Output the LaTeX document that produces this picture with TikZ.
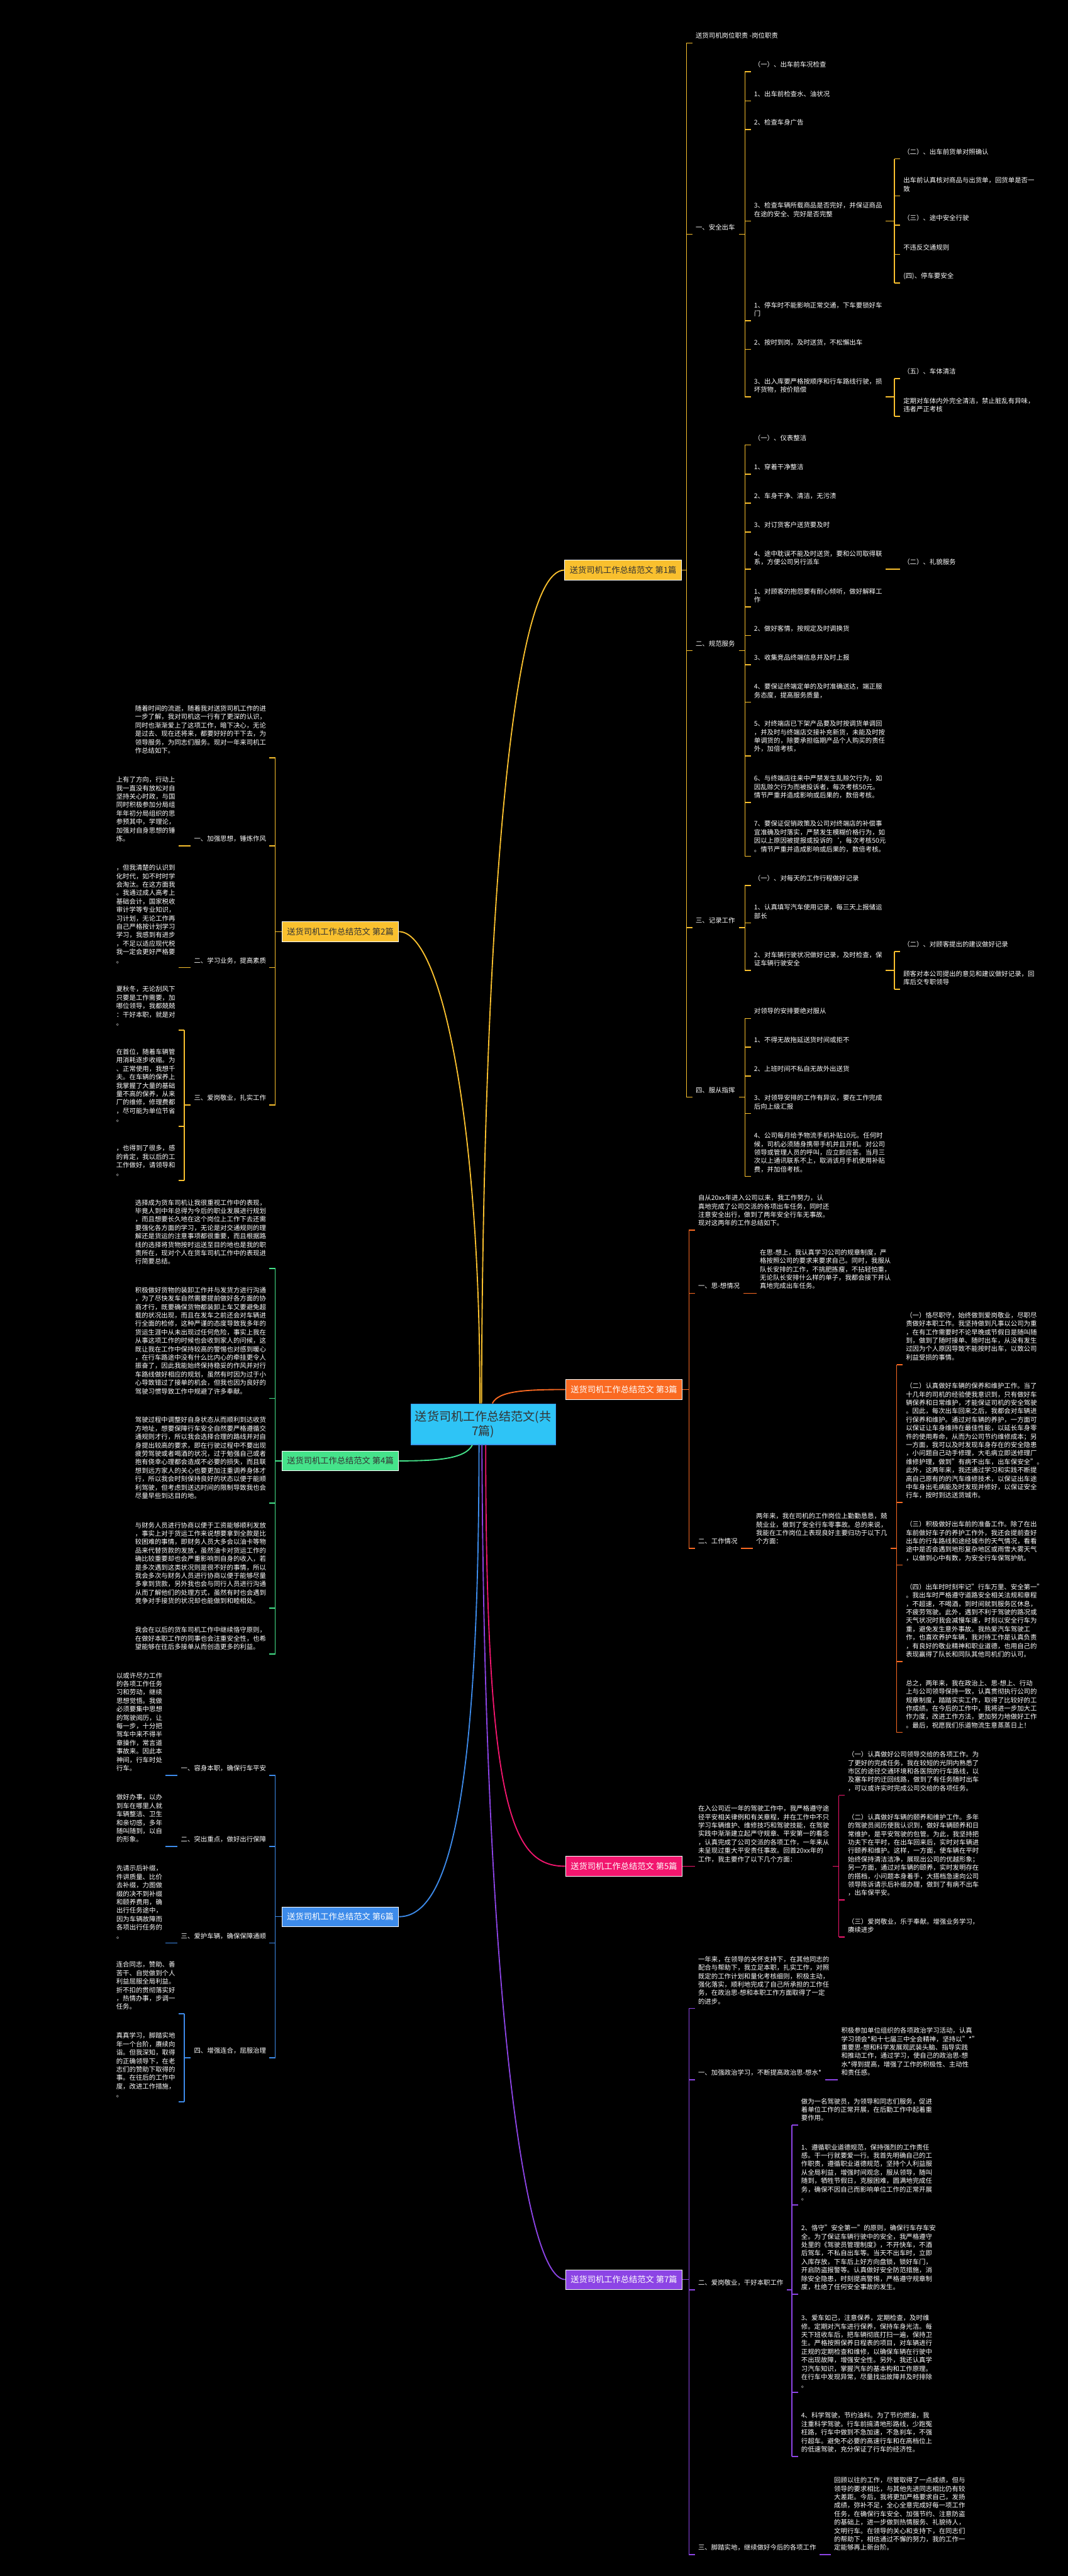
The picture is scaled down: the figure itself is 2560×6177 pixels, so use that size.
\documentclass[tikz,border=0pt]{standalone}
\usepackage{fontspec}
\setmainfont{Noto Sans CJK SC}
\usetikzlibrary{calc}
\definecolor{cY}{HTML}{F9C02E}
\definecolor{cO}{HTML}{FA6A22}
\definecolor{cG}{HTML}{45E38A}
\definecolor{cP}{HTML}{F2166E}
\definecolor{cB}{HTML}{3D8BEA}
\definecolor{cV}{HTML}{8C44E5}
\definecolor{cC}{HTML}{2EC4F6}
\definecolor{dark}{HTML}{333333}
\newcommand\lf{\fontsize{7.85pt}{10.1pt}\selectfont}
\tikzset{
 leaf/.style={inner sep=0pt, outer sep=0pt, align=left, text=white, font=\lf},
 brk/.style={line width=1.2pt},
 curve/.style={line width=1.4pt},
 topic/.style={inner sep=0pt, minimum width=140pt, minimum height=23.5pt, font=\fontsize{10pt}{12pt}\selectfont, draw=white, line width=0.7pt},
}
\newcommand\Rn[4]{\node[leaf,anchor=south west] (#1) at (#2,#3-5) {\strut#4\strut};}
\newcommand\Ln[4]{\node[leaf,anchor=south east] (#1) at (#2,#3-5) {\strut#4\strut};}
\newcommand\Ro[1]{\coordinate (#1-o) at ($(#1.south east)+(9,5)$);}
\newcommand\Lo[1]{\coordinate (#1-o) at ($(#1.south west)+(-9,5)$);}
\newcommand\Rb[5]{%
 \foreach \ch in {#5}{\draw[brk,#1] ($(\ch.south west)+(-8,5)$) -- ++(-14,0) coordinate (\ch-b);}
 \draw[brk,#1] (#3-b) -- (#4-b);
 \draw[brk,#1] (#2) -- (#2 -| #3-b);}
\newcommand\Lb[5]{%
 \foreach \ch in {#5}{\draw[brk,#1] ($(\ch.south east)+(8,5)$) -- ++(14,0) coordinate (\ch-b);}
 \draw[brk,#1] (#3-b) -- (#4-b);
 \draw[brk,#1] (#2) -- (#2 -| #3-b);}
\newcommand\Rs[3]{\draw[brk,#1] ($(#2.south east)+(9,5)$) -- ($(#3.south west)+(-8,5)$);}
\newcommand\Ls[3]{\draw[brk,#1] ($(#2.south west)+(-9,5)$) -- ($(#3.south east)+(8,5)$);}
\begin{document}
\begin{tikzpicture}[x=0.5pt,y=-0.5pt]
\fill[black] (0,0) rectangle (2560,6177);
\useasboundingbox (0,0) rectangle (2560,6177);
% ---------- center and topics
\node[fill=cC, draw=cB!80!cC, line width=0.8pt, minimum width=173.5pt, minimum height=49pt, inner sep=0pt, align=center, text=dark, font=\fontsize{14.4pt}{17.7pt}\selectfont] (c) at (1158.5,3415) {送货司机工作总结范文(共\\7篇)};
\node[topic, fill=cY, text=dark] (b1) at (1494,1367) {送货司机工作总结范文 第1篇};
\node[topic, fill=cY, text=dark] (b2) at (816,2234) {送货司机工作总结范文 第2篇};
\node[topic, fill=cO, text=white] (b3) at (1496,3332) {送货司机工作总结范文 第3篇};
\node[topic, fill=cG, text=dark] (b4) at (816,3503) {送货司机工作总结范文 第4篇};
\node[topic, fill=cP, text=white] (b5) at (1496,4475) {送货司机工作总结范文 第5篇};
\node[topic, fill=cB, text=white] (b6) at (816,4596) {送货司机工作总结范文 第6篇};
\node[topic, fill=cV, text=white] (b7) at (1496,5466) {送货司机工作总结范文 第7篇};
\draw[curve,cY] ($(c.north)+(-4,0)$) .. controls (1157,2400) and (1210,1367) .. (b1.west);
\draw[curve,cY] ($(c.north)+(-8,0)$) .. controls (1152,2700) and (1060,2234) .. (b2.east);
\draw[curve,cO] ($(c.north)+(22,0)$) .. controls (1195,3335) and (1260,3332) .. (b3.west);
\draw[curve,cG] ($(c.south)+(-26,0)$) .. controls (1115,3500) and (1040,3503) .. (b4.east);
\draw[curve,cP] ($(c.south)+(6,0)$) .. controls (1165,4350) and (1230,4475) .. (b5.west);
\draw[curve,cB] ($(c.south)+(-10,0)$) .. controls (1148,4300) and (1080,4596) .. (b6.east);
\draw[curve,cV] ($(c.south)+(-3,0)$) .. controls (1160,4700) and (1250,5466) .. (b7.west);
% ---------- branch 1
\Rn{a0}{1668}{103}{送货司机岗位职责 -岗位职责}
\Rn{a1}{1668}{562}{一、安全出车}
\Rn{a2}{1668}{1560}{二、规范服务}
\Rn{a3}{1668}{2224}{三、记录工作}
\Rn{a4}{1668}{2631}{四、服从指挥}
\Rn{a1c1}{1808}{172}{（一）、出车前车况检查}
\Rn{a1c2}{1808}{242}{1、出车前检查水、油状况}
\Rn{a1c3}{1808}{311}{2、检查车身广告}
\Rn{a1c4}{1808}{530}{3、检查车辆所载商品是否完好，并保证商品\\在途的安全、完好是否完整}
\Rn{a1c5}{1808}{769}{1、停车时不能影响正常交通，下车要锁好车\\门}
\Rn{a1c6}{1808}{838}{2、按时到岗，及时送货，不松懈出车}
\Rn{a1c7}{1808}{952}{3、出入库要严格按顺序和行车路线行驶，损\\坏货物，按价赔偿}
\Rn{d1}{2166}{381}{（二）、出车前货单对照确认}
\Rn{d2}{2166}{470}{出车前认真核对商品与出货单，回货单是否一\\致}
\Rn{d3}{2166}{540}{（三）、途中安全行驶}
\Rn{d4}{2166}{610}{不违反交通规则}
\Rn{d5}{2166}{679}{(四)、停车要安全}
\Rn{e1}{2166}{908}{（五）、车体清洁}
\Rn{e2}{2166}{998}{定期对车体内外完全清洁，禁止脏乱有异味，\\违者严正考核}
\Rn{f1}{1808}{1067}{（一）、仪表整洁}
\Rn{f2}{1808}{1137}{1、穿着干净整洁}
\Rn{f3}{1808}{1206}{2、车身干净、清洁，无污渍}
\Rn{f4}{1808}{1276}{3、对订货客户送货要及时}
\Rn{f5}{1808}{1365}{4、途中耽误不能及时送货，要和公司取得联\\系，方便公司另行派车}
\Rn{f5c}{2166}{1365}{（二）、礼貌服务}
\Rn{f6}{1808}{1455}{1、对顾客的抱怨要有耐心倾听，做好解释工\\作}
\Rn{f7}{1808}{1524}{2、做好客情，按规定及时调换货}
\Rn{f8}{1808}{1594}{3、收集竞品终端信息并及时上报}
\Rn{f9}{1808}{1684}{4、要保证终端定单的及时准确送达，端正服\\务态度，提高服务质量，}
\Rn{f10}{1808}{1813}{5、对终端店已下架产品要及时按调货单调回\\，并及时与终端店交接补充新货，未能及时按\\单调货的，除要承担临期产品个人购买的责任\\外，加倍考核，}
\Rn{f11}{1808}{1924}{6、与终端店往来中严禁发生乱赊欠行为，如\\因乱赊欠行为而被投诉者，每次考核50元。\\情节严重并造成影响或后果的，数倍考核。}
\Rn{f12}{1808}{2053}{7、要保证促销政策及公司对终端店的补偿事\\宜准确及时落实，严禁发生模糊价格行为，如\\因以上原因被提报或投诉的`，每次考核50元\\。情节严重并造成影响或后果的，数倍考核。}
\Rn{g1}{1808}{2123}{（一）、对每天的工作行程做好记录}
\Rn{g2}{1808}{2213}{1、认真填写汽车使用记录，每三天上报储运\\部长}
\Rn{g3}{1808}{2327}{2、对车辆行驶状况做好记录，及时检查，保\\证车辆行驶安全}
\Rn{h1}{2166}{2282}{（二）、对顾客提出的建议做好记录}
\Rn{h2}{2166}{2372}{顾客对本公司提出的意见和建议做好记录，回\\库后交专职领导}
\Rn{i1}{1808}{2442}{对领导的安排要绝对服从}
\Rn{i2}{1808}{2511}{1、不得无故拖延送货时间或拒不}
\Rn{i3}{1808}{2580}{2、上班时间不私自无故外出送货}
\Rn{i4}{1808}{2670}{3、对领导安排的工作有异议，要在工作完成\\后向上级汇报}
\Rn{i5}{1808}{2821}{4、公司每月给予物流手机补贴10元。任何时\\候，司机必须随身携带手机并且开机。对公司\\领导或管理人员的呼叫，应立即应答。当月三\\次以上通讯联系不上，取消该月手机使用补贴\\费，并加倍考核。}
\Ro{a1}\Ro{a2}\Ro{a3}\Ro{a4}\Ro{a1c4}\Ro{a1c7}\Ro{g3}
\Rb{cY}{b1.east}{a0}{a4}{a0,a1,a2,a3,a4}
\Rb{cY}{a1-o}{a1c1}{a1c7}{a1c1,a1c2,a1c3,a1c4,a1c5,a1c6,a1c7}
\Rb{cY}{a1c4-o}{d1}{d5}{d1,d2,d3,d4,d5}
\Rb{cY}{a1c7-o}{e1}{e2}{e1,e2}
\Rb{cY}{a2-o}{f1}{f12}{f1,f2,f3,f4,f5,f6,f7,f8,f9,f10,f11,f12}
\Rs{cY}{f5}{f5c}
\Rb{cY}{a3-o}{g1}{g3}{g1,g2,g3}
\Rb{cY}{g3-o}{h1}{h2}{h1,h2}
\Rb{cY}{a4-o}{i1}{i5}{i1,i2,i3,i4,i5}
% ---------- branch 3
\Rn{j0}{1674}{2950}{自从20xx年进入公司以来，我工作努力，认\\真地完成了公司交派的各项出车任务，同时还\\注意安全出行，做到了两年安全行车无事故。\\现对这两年的工作总结如下。}
\Rn{j1}{1674}{3101}{一、思-想情况}
\Rn{j2}{1674}{3713}{二、工作情况}
\Rn{j1c}{1822}{3101}{在思-想上，我认真学习公司的规章制度，严\\格按照公司的要求来要求自己。同时，我服从\\队长安排的工作，不挑肥拣瘦，不拈轻怕重，\\无论队长安排什么样的单子，我都会接下并认\\真地完成出车任务。}
\Rn{j2c}{1813}{3713}{两年来，我在司机的工作岗位上勤勤恳恳，兢\\兢业业，做到了安全行车零事故。总的来说，\\我能在工作岗位上表现良好主要归功于以下几\\个方面：}
\Rn{k1}{2172}{3272}{（一）恪尽职守，始终做到爱岗敬业，尽职尽\\责做好本职工作。我坚持做到凡事以公司为重\\，在有工作需要时不论早晚或节假日是随叫随\\到，做到了随时接单、随时出车，从没有发生\\过因为个人原因导致不能按时出车，以致公司\\利益受损的事情。}
\Rn{k2}{2172}{3603}{（二）认真做好车辆的保养和维护工作。当了\\十几年的司机的经验使我意识到，只有做好车\\辆保养和日常维护，才能保证司机的安全驾驶\\。因此，每次出车回来之后，我都会对车辆进\\行保养和维护。通过对车辆的养护，一方面可\\以保证让车身维持在最佳性能，以延长车身零\\件的使用寿命，从而为公司节约维修成本；另\\一方面，我可以及时发现车身存在的安全隐患\\，小问题自己动手修理，大毛病立即送修理厂\\维修护理，做到"有病不出车，出车保安全"。\\此外，这两年来，我还通过学习和实践不断提\\高自己原有的的汽车维修技术，以保证出车途\\中车身出毛病能及时发现并修好，以保证安全\\行车，按时到达送货城市。}
\Rn{k3}{2172}{3753}{（三）积极做好出车前的准备工作。除了在出\\车前做好车子的养护工作外，我还会提前查好\\出车的行车路线和途经城市的天气情况，看看\\途中是否会遇到地形复杂地区或雨雪大雾天气\\，以做到心中有数，为安全行车保驾护航。}
\Rn{k4}{2172}{3984}{（四）出车时时刻牢记"行车万里、安全第一"\\。我出车时严格遵守道路安全相关法规和章程\\，不超速，不喝酒，到时间就到服务区休息，\\不疲劳驾驶。此外，遇到不利于驾驶的路况或\\天气状况时我会减慢车速，时刻以安全行车为\\重，避免发生意外事故。我热爱汽车驾驶工\\作，也喜欢养护车辆，我对待工作是认真负责\\，有良好的敬业精神和职业道德，也用自己的\\表现赢得了队长和同队其他司机们的认可。}
\Rn{k5}{2172}{4154}{总之，两年来，我在政治上、思-想上、行动\\上与公司领导保持一致，认真贯彻执行公司的\\规章制度，踏踏实实工作，取得了比较好的工\\作成绩。在今后的工作中，我将进一步加大工\\作力度，改进工作方法，更加努力地做好工作\\。最后，祝愿我们乐道物流生意蒸蒸日上！}
\Ro{j2c}
\Rb{cO}{b3.east}{j0}{j2}{j0,j1,j2}
\Rs{cO}{j1}{j1c}
\Rs{cO}{j2}{j2c}
\Rb{cO}{j2c-o}{k1}{k5}{k1,k2,k3,k4,k5}
% ---------- branch 5
\Rn{l1}{1674}{4475}{在入公司近一年的驾驶工作中，我严格遵守途\\径平安相关律例和有关章程，并在工作中不只\\学习车辆维护、维修技巧和驾驶技能，在驾驶\\实践中渐渐建立起严守规章、平安第一的看念\\，认真完成了公司交派的各项工作，一年来从\\未呈现过重大平安责任事故。回首20xx年的\\工作，我主要作了以下几个方面：}
\Rn{m1}{2033}{4305}{（一）认真做好公司领导交给的各项工作。为\\了更好的完成任务，我在较短的光阴内熟悉了\\市区的途径交通环境和各医院的行车路线，以\\及塞车时的迂回线路，做到了有任务随时出车\\，可以或许实时完成公司交给的各项任务。}
\Rn{m2}{2033}{4556}{（二）认真做好车辆的颐养和维护工作。多年\\的驾驶员阅历使我认识到，做好车辆颐养和日\\常维护，是平安驾驶的包管。为此，我坚持把\\功夫下在平时，在出车回来后，实时对车辆进\\行颐养和维护。这样，一方面，使车辆在平时\\始终保持清洁洁净，展现出公司的优越形象；\\另一方面，通过对车辆的颐养，实时发明存在\\的搭档，小问题本身着手，大搭档急速向公司\\领导陈诉请示后补缀办理，做到了有病不出车\\，出车保平安。}
\Rn{m3}{2033}{4645}{（三）爱岗敬业，乐于奉献。增强业务学习，\\赓续进步}
\draw[brk,cP] (b5.east) -- ($(l1.south west)+(-8,5)$);
\Ro{l1}
\Rb{cP}{l1-o}{m1}{m3}{m1,m2,m3}
% ---------- branch 7
\Rn{n0}{1674}{4816}{一年来，在领导的关怀支持下，在其他同志的\\配合与帮助下，我立足本职，扎实工作，对照\\既定的工作计划和量化考核细则，积极主动，\\强化落实，顺利地完成了自己所承担的工作任\\务，在政治思-想和本职工作方面取得了一定\\的进步。}
\Rn{n1}{1674}{4987}{一、加强政治学习，不断提高政治思-想水*}
\Rn{n2}{1674}{5491}{二、爱岗敬业，干好本职工作}
\Rn{n3}{1674}{6126}{三、脚踏实地，继续做好今后的各项工作}
\Rn{n1c}{2017}{4987}{积极参加单位组织的各项政治学习活动，认真\\学习领会*和十七届三中全会精神，坚持以"*"\\重要思-想和科学发展观武装头脑、指导实践\\和推动工作，通过学习，使自己的政治思-想\\水*得到提高，增强了工作的积极性、主动性\\和责任感。}
\Rn{o1}{1921}{5096}{做为一名驾驶员，为领导和同志们服务，促进\\着单位工作的正常开展，在后勤工作中起着重\\要作用。}
\Rn{o2}{1921}{5287}{1、遵循职业道德规范，保持强烈的工作责任\\感。干一行就要爱一行。我首先明确自己的工\\作职责，遵循职业道德规范，坚持个人利益服\\从全局利益，增强时间观念，服从领导，随叫\\随到，牺牲节假日，克服困难，圆满地完成任\\务，确保不因自己而影响单位工作的正常开展\\。}
\Rn{o3}{1921}{5501}{2、恪守"安全第一"的原则，确保行车存车安\\全。为了保证车辆行驶中的安全，我严格遵守\\处里的《驾驶员管理制度》，不开快车，不酒\\后驾车，不私自出车等。当天不出车时，立即\\入库存放，下车后上好方向盘锁，锁好车门，\\开启防盗报警等。认真做好安全防范措施，消\\除安全隐患，时刻提高警惕，严格遵守规章制\\度，杜绝了任何安全事故的发生。}
\Rn{o4}{1921}{5737}{3、爱车如己，注意保养，定期检查，及时维\\修。定期对汽车进行保养，保持车身光洁。每\\天下班收车后，把车辆彻底打扫一遍，保持卫\\生。严格按照保养日程表的项目，对车辆进行\\正规的定期检查和维修，以确保车辆在行驶中\\不出现故障，增强安全性。另外，我还认真学\\习汽车知识，掌握汽车的基本构和工作原理。\\在行车中发现异常，尽量找出故障并及时排除\\。}
\Rn{o5}{1921}{5890}{4、科学驾驶，节约油料。为了节约燃油，我\\注重科学驾驶。行车前搞清地形路线，少跑冤\\枉路，行车中做到不急加速，不急刹车，不强\\行超车。避免不必要的高速行车和在高档位上\\的低速驾驶，充分保证了行车的经济性。}
\Rn{n3c}{2000}{6126}{回顾以往的工作，尽管取得了一点成绩，但与\\领导的要求相比，与其他先进同志相比仍有较\\大差距。今后，我将更加严格要求自己，发扬\\成绩，弥补不足，全心全意完成好每一项工作\\任务，在确保行车安全、加强节约、注意防盗\\的基础上，进一步做到热情服务、礼貌待人，\\文明行车。在领导的关心和支持下，在同志们\\的帮助下，相信通过不懈的努力，我的工作一\\定能够再上新台阶。}
\Ro{n2}
\Rb{cV}{b7.east}{n0}{n3}{n0,n1,n2,n3}
\Rs{cV}{n1}{n1c}
\Rb{cV}{n2-o}{o1}{o5}{o1,o2,o3,o4,o5}
\Rs{cV}{n3}{n3c}
% ---------- branch 2
\Ln{p0}{638}{1817}{随着时间的流逝，随着我对送货司机工作的进\\一步了解，我对司机这一行有了更深的认识，\\同时也渐渐爱上了这项工作，暗下决心，无论\\是过去、现在还将来，都要好好的干下去，为\\领导服务，为同志们服务。现对一年来司机工\\作总结如下。}
\Ln{p1}{638}{2028}{一、加强思想，锤炼作风}
\Ln{p2}{638}{2320}{二、学习业务，提高素质}
\Ln{p3}{638}{2650}{三、爱岗敬业，扎实工作}
\Ln{p1c}{420}{2028}{上有了方向，行动上\\我一直没有放松对自\\坚持关心时政，与国\\同时积极参加分局组\\年年初分局组织的思\\参预其中，学理论，\\加强对自身思想的锤\\炼。}
\Ln{p2c}{420}{2320}{，但我清楚的认识到\\化时代，如不时时学\\会淘汰。在这方面我\\。我通过成人高考上\\基础会计，国家税收\\审计学等专业知识，\\习计划，无论工作再\\自己严格按计划学习\\学习，我感到有进步\\，不足以适应现代税\\我一定会更好严格要\\。}
\Ln{q1}{420}{2470}{夏秋冬，无论刮风下\\只要是工作需要，加\\哪位领导，我都兢兢\\：干好本职，就是对\\。}
\Ln{q2}{420}{2701}{在首位，随着车辆管\\用消耗逐步收缩。为\\、正常使用，我想千\\夫。在车辆的保养上\\我掌握了大量的基础\\量不高的保养，从来\\厂的维修，修理费都\\，尽可能为单位节省\\。}
\Ln{q3}{420}{2831}{，也得到了很多，感\\的肯定，我以后的工\\工作做好，请领导和\\。}
\Lo{p3}
\Lb{cY}{b2.west}{p0}{p3}{p0,p1,p2,p3}
\Ls{cY}{p1}{p1c}
\Ls{cY}{p2}{p2c}
\Lb{cY}{p3-o}{q1}{q3}{q1,q2,q3}
% ---------- branch 4
\Ln{r1}{638}{3042}{选择成为货车司机让我很重视工作中的表现，\\毕竟人到中年总得为今后的职业发展进行规划\\，而且想要长久地在这个岗位上工作下去还需\\要强化各方面的学习，无论是对交通规则的理\\解还是货运的注意事项都很重要，而且根据路\\线的选择将货物按时运送至目的地也是我的职\\责所在，现对个人在货车司机工作中的表现进\\行简要总结。}
\Ln{r2}{638}{3353}{积极做好货物的装卸工作并与发货方进行沟通\\，为了尽快发车自然需要提前做好各方面的协\\商才行，既要确保货物都装卸上车又要避免超\\载的状况出现，而且在发车之前还会对车辆进\\行全面的检修，这种严谨的态度导致我多年的\\货运生涯中从未出现过任何危险，事实上我在\\从事这项工作的时候也会收到家人的问候，这\\既让我在工作中保持较高的警惕也对感到暖心\\，在行车路途中没有什么比内心的牵挂更令人\\振奋了，因此我能始终保持稳妥的作风并对行\\车路线做好相应的规划，虽然有时因为过于小\\心导致错过了接单的机会，但我也因为良好的\\驾驶习惯导致工作中规避了许多奉献。}
\Ln{r3}{638}{3604}{驾驶过程中调整好自身状态从而顺利到达收货\\方地址，想要保障行车安全自然要严格遵循交\\通规则才行，所以我会选择合理的路线并对自\\身提出较高的要求，即在行驶过程中不要出现\\疲劳驾驶或者喝酒的状况，过于勉强自己或者\\抱有侥幸心理都会造成不必要的损失，而且联\\想到远方家人的关心也要更加注重调养身体才\\行，所以我会时刻保持良好的状态以便于能顺\\利驾驶，但考虑到送达时间的限制导致我也会\\尽量早些到达目的地。}
\Ln{r4}{638}{3856}{与财务人员进行协商以便于工资能够顺利发放\\，事实上对于货运工作来说想要拿到全款是比\\较困难的事情，即财务人员大多会以油卡等物\\品来代替货款的发放，虽然油卡对货运工作的\\确比较重要却也会严重影响到自身的收入，若\\是多次遇到这类状况则是很不好的事情，所以\\我会多次与财务人员进行协商以便于能够尽量\\多拿到货款，另外我也会与同行人员进行沟通\\从而了解他们的处理方式，虽然有时也会遇到\\竞争对手接货的状况却也能做到和睦相处。}
\Ln{r5}{638}{3966}{我会在以后的货车司机工作中继续恪守原则，\\在做好本职工作的同事也会注重安全性，也希\\望能够在往后多接单从而创造更多的利益。}
\Lb{cG}{b4.west}{r1}{r5}{r1,r2,r3,r4,r5}
% ---------- branch 6
\Ln{s1}{638}{4257}{一、容身本职，确保行车平安}
\Ln{s2}{638}{4428}{二、突出重点，做好出行保障}
\Ln{s3}{638}{4659}{三、爱护车辆，确保保障通顺}
\Ln{s4}{638}{4934}{四、增强连合，屈服治理}
\Ln{s1c}{389}{4257}{以或许尽力工作\\的各项工作任务\\习和劳动，继续\\思想觉悟。我做\\必须要集中思想\\的驾驶阅历，让\\每一步，十分把\\驾车中来不得半\\章操作，常言道\\事故来。因此本\\神间，行车时处\\行车。}
\Ln{s2c}{389}{4428}{做好办事，以办\\到车在哪里人就\\车辆整洁、卫生\\和亲切感，多年\\随叫随到，以自\\的形象。}
\Ln{s3c}{389}{4659}{先请示后补缀，\\件讲质量、比价\\去补缀，力图做\\缀的决不到补缀\\和颐养费用，确\\出行任务途中，\\因为车辆故障而\\各项出行任务的\\。}
\Ln{t1}{420}{4829}{连合同志，赞助、善\\苦干、自觉做到个人\\利益屈服全局利益。\\折不扣的贯彻落实好\\，热情办事，步调一\\任务。}
\Ln{t2}{420}{5040}{真真学习，脚踏实地\\年一个台阶，赓续向\\诣。但我深知，取得\\的正确领导下，在老\\志们的赞助下取得的\\事。在往后的工作中\\度，改进工作措施，\\。}
\Lo{s4}
\Lb{cB}{b6.west}{s1}{s4}{s1,s2,s3,s4}
\Ls{cB}{s1}{s1c}
\Ls{cB}{s2}{s2c}
\Ls{cB}{s3}{s3c}
\Lb{cB}{s4-o}{t1}{t2}{t1,t2}
\end{tikzpicture}
\end{document}
